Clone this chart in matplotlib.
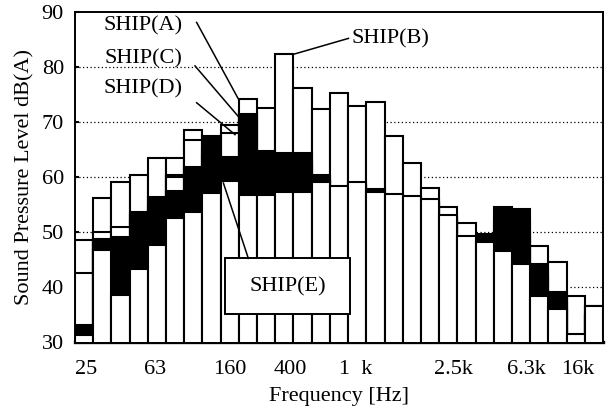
import matplotlib
matplotlib.use('Agg')
import matplotlib.pyplot as plt
import numpy as np
from matplotlib.patches import Rectangle

plt.rcParams['font.family'] = ['Liberation Serif', 'DejaVu Serif']

# 1/3-octave band centre frequencies (Hz)
bands = ['25', '31.5', '40', '50', '63', '80', '100', '125', '160', '200',
         '250', '315', '400', '500', '630', '800', '1k', '1.25k', '1.6k', '2k',
         '2.5k', '3.15k', '4k', '5k', '6.3k', '8k', '10k', '12.5k', '16k']

# Sound pressure level dB(A) per band for each ship
ship_b = [48.5, 56.1, 59.0, 60.4, 63.4, 63.4, 68.6, 66.0, 69.5, 72.0,
          72.6, 82.3, 76.2, 72.3, 75.2, 72.9, 73.6, 67.4, 62.5, 58.0,
          54.6, 51.7, 48.5, 52.0, 52.0, 47.5, 44.6, 38.4, 36.6]
ship_a = [42.5, 50.0, 50.9, 53.0, 55.0, 60.4, 66.8, 65.0, 68.0, 74.2,
          64.0, 63.0, 63.0, 59.5, 57.5, 58.5, 57.0, 56.0, 56.0, 55.5,
          52.5, 48.5, 47.5, 50.0, 50.0, 43.0, 38.0, 31.0, 35.0]
ship_c = [32.5, 48.0, 48.0, 52.0, 54.0, 60.0, 60.0, 64.0, 62.0, 70.5,
          63.5, 62.5, 62.5, 59.0, 57.0, 58.0, 56.5, 55.5, 55.5, 55.0,
          52.0, 48.0, 47.0, 49.0, 49.0, 42.0, 37.0, 30.8, 34.5]
ship_d = [33.0, 48.8, 49.0, 53.7, 56.4, 57.5, 61.8, 67.4, 63.7, 71.4,
          64.8, 64.3, 64.3, 60.4, 57.8, 58.5, 57.9, 56.0, 55.8, 55.5,
          52.5, 48.5, 49.7, 54.6, 54.1, 44.2, 39.1, 31.0, 35.0]
ship_e = [31.2, 46.7, 38.6, 43.3, 47.7, 52.5, 53.7, 57.0, 59.2, 56.7,
          56.7, 57.3, 57.3, 59.0, 58.4, 59.0, 57.2, 56.9, 56.5, 56.0,
          53.1, 49.3, 48.1, 46.5, 44.1, 38.4, 36.0, 31.5, 36.6]

tick_bands = ['25', '63', '160', '400', '1k', '2.5k', '6.3k', '16k']
tick_texts = ['25', '63', '160', '400', '1  k', '2.5k', '6.3k', '16k']
tick_shift = [0.1, -0.1, 0.0, -0.7, -1.1, 0.3, 0.3, -0.9]

fig = plt.figure(figsize=(6.06, 4.19), dpi=100)
ax = fig.add_axes([0.1238, 0.1838, 0.8712, 0.7876])

x = np.arange(len(bands))
lw = 1.5
series = [(ship_b, 'white'), (ship_a, 'white'), (ship_c, 'white'),
          (ship_d, 'black'), (ship_e, 'white')]
for z, (vals, fc) in enumerate(series):
    ax.bar(x, vals, width=1.0, color=fc, edgecolor='black', linewidth=lw,
           zorder=2 + z)

ax.set_xlim(-0.5, len(bands) - 0.5)
ax.set_ylim(30, 90)
ax.set_yticks(np.arange(30, 91, 10))
for gy in range(40, 90, 10):
    ax.axhline(gy, color='black', lw=0.9, ls=(0, (1, 2)), zorder=1)

pos = [bands.index(b) + s for b, s in zip(tick_bands, tick_shift)]
ax.set_xticks(pos)
ax.set_xticklabels(tick_texts)
ax.tick_params(axis='x', length=0, pad=13, labelsize=16)
ax.tick_params(axis='y', direction='in', length=3, width=1.5, labelsize=16, pad=8)
for sp in ax.spines.values():
    sp.set_linewidth(1.4)
ax.spines['bottom'].set_linewidth(2.4)

ax.set_xlabel('Frequency [Hz]', fontsize=16, labelpad=6)
ax.set_ylabel('Sound Pressure Level dB(A)', fontsize=16, labelpad=5)

# annotations
fs = 16
ax.text(3.24, 87.4, 'SHIP(A)', fontsize=fs, ha='center', va='center', zorder=20)
ax.text(3.24, 81.4, 'SHIP(C)', fontsize=fs, ha='center', va='center', zorder=20)
ax.text(3.24, 76.0, 'SHIP(D)', fontsize=fs, ha='center', va='center', zorder=20)
ax.text(16.8, 85.1, 'SHIP(B)', fontsize=fs, ha='center', va='center', zorder=20)
ax.plot([6.18, 8.47], [88.1, 74.2], color='black', lw=1.1, zorder=20)
ax.plot([6.09, 8.47], [80.2, 71.0], color='black', lw=1.1, zorder=20)
ax.plot([6.18, 8.29], [73.5, 67.7], color='black', lw=1.1, zorder=20)
ax.plot([14.52, 11.49], [85.2, 82.3], color='black', lw=1.1, zorder=20)
ax.plot([9.02, 7.65], [45.2, 58.9], color='black', lw=1.1, zorder=20)
ax.add_patch(Rectangle((7.74, 35.1), 6.86, 10.1, facecolor='white',
                       edgecolor='black', lw=1.4, zorder=19))
ax.text(11.17, 40.1, 'SHIP(E)', fontsize=fs, ha='center', va='center', zorder=20)

fig.savefig('out.png', dpi=100)
